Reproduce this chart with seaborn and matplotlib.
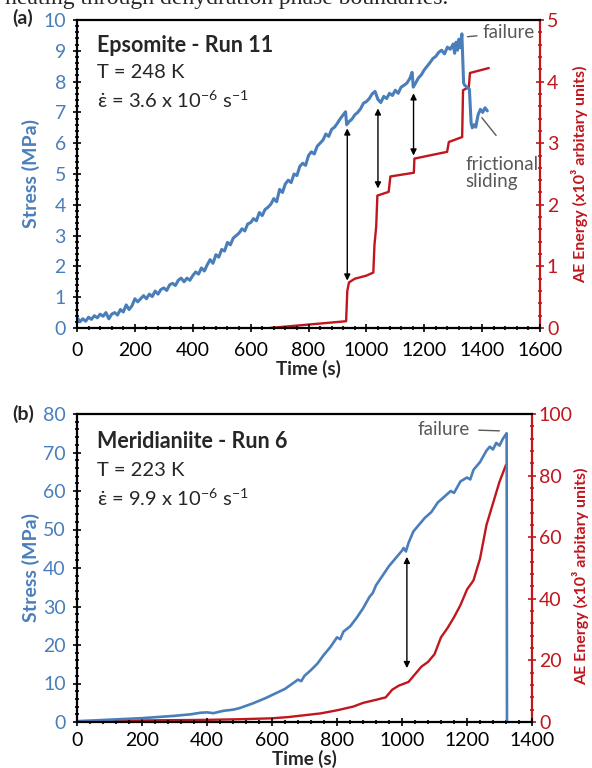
import numpy as np
import pandas as pd
import seaborn as sns
import matplotlib.pyplot as plt
from matplotlib.ticker import MultipleLocator

# ---- panel (a): Epsomite, run 11 ----
time_a = [0, 10, 20, 30, 40, 50, 60, 70, 80, 90, 100, 110, 120, 130, 140, 150, 160, 170, 180, 190,
          200, 210, 220, 230, 240, 250, 260, 270, 280, 290, 300, 310, 320, 330, 340, 350, 360, 370,
          380, 390, 400, 410, 420, 430, 440, 450, 460, 470, 480, 490, 500, 510, 520, 530, 540, 550,
          560, 570, 580, 590, 600, 610, 620, 630, 640, 650, 660, 670, 680, 690, 700, 710, 720, 730,
          740, 750, 760, 770, 780, 790, 800, 810, 820, 830, 840, 850, 860, 870, 880, 890, 900, 910,
          920, 928, 932, 940, 950, 960, 970, 980, 990, 1000, 1010, 1020, 1030, 1040, 1050, 1060,
          1070, 1080, 1090, 1100, 1110, 1120, 1130, 1140, 1150, 1158, 1162, 1170, 1180, 1190, 1200,
          1210, 1220, 1230, 1240, 1250, 1260, 1270, 1280, 1290, 1300, 1305, 1310, 1315, 1320, 1325,
          1330, 1336, 1340, 1348, 1356, 1362, 1366, 1372, 1378, 1386, 1394, 1402, 1410, 1418]
stress_a = [0.35, 0.2, 0.3, 0.22, 0.35, 0.28, 0.4, 0.33, 0.45, 0.38, 0.5, 0.3, 0.45, 0.5, 0.42, 0.6,
            0.52, 0.75, 0.6, 0.72, 0.95, 0.85, 0.95, 1.05, 0.95, 1.1, 1.02, 1.2, 1.1, 1.25, 1.3, 1.22,
            1.4, 1.45, 1.38, 1.55, 1.62, 1.5, 1.62, 1.55, 1.7, 1.82, 1.75, 1.95, 1.85, 2.05, 2.22, 2.1,
            2.38, 2.3, 2.55, 2.5, 2.78, 2.7, 2.92, 3.0, 3.08, 3.22, 3.15, 3.38, 3.42, 3.55, 3.48, 3.75,
            3.65, 3.85, 3.92, 4.02, 4.2, 4.1, 4.5, 4.4, 4.68, 4.8, 4.72, 5.0, 4.95, 5.25, 5.35, 5.28,
            5.6, 5.72, 5.65, 5.9, 6.0, 6.1, 6.3, 6.22, 6.45, 6.52, 6.65, 6.8, 6.92, 7.02, 6.6, 6.7,
            6.78, 6.92, 7.0, 7.12, 7.3, 7.35, 7.45, 7.6, 7.68, 7.42, 7.32, 7.52, 7.45, 7.62, 7.55, 7.72,
            7.62, 7.82, 7.88, 7.95, 8.1, 8.3, 7.82, 7.95, 8.12, 8.22, 8.38, 8.5, 8.62, 8.75, 8.82, 8.95,
            9.02, 8.9, 9.12, 9.05, 9.22, 8.92, 9.28, 9.02, 9.38, 9.1, 9.55, 7.95, 7.88, 7.82, 7.75, 6.65,
            6.5, 6.6, 6.52, 6.92, 7.1, 7.0, 7.15, 7.05]
ae_time_a = [666, 930, 934, 940, 960, 1000, 1024, 1028, 1034, 1038, 1077, 1083, 1164, 1166, 1279,
             1285, 1331, 1334, 1354, 1358, 1423]
ae_a = [0.0, 0.11, 0.6, 0.74, 0.8, 0.85, 0.9, 1.35, 1.65, 2.15, 2.21, 2.46, 2.52, 2.75, 2.86, 3.02,
        3.1, 3.86, 3.91, 4.14, 4.22]
arrows_a = [(934, 6.48, 1.54), (1040, 7.13, 4.53), (1163, 7.62, 5.6)]

# ---- panel (b): Meridianiite, run 6 ----
time_b = [0, 20, 50, 100, 150, 200, 250, 300, 350, 380, 400, 420, 450, 480, 500, 520, 540, 560,
          580, 600, 620, 640, 660, 680, 690, 700, 720, 740, 760, 780, 800, 810, 820, 840, 860, 880,
          900, 910, 920, 940, 960, 980, 1000, 1005, 1012, 1020, 1035, 1050, 1070, 1090, 1110, 1130,
          1150, 1160, 1180, 1200, 1210, 1220, 1240, 1260, 1270, 1280, 1290, 1300, 1310, 1322, 1323]
stress_b = [0.2, 0.3, 0.4, 0.6, 0.8, 1.0, 1.3, 1.6, 2.0, 2.4, 2.5, 2.3, 2.9, 3.2, 3.6, 4.2, 4.8,
            5.5, 6.2, 7.0, 7.8, 8.6, 9.8, 11.0, 10.6, 12.0, 13.5, 15.2, 17.5, 19.5, 22.0, 21.5,
            23.5, 24.8, 27.0, 29.5, 32.5, 33.5, 35.5, 38.0, 40.5, 42.5, 44.5, 45.2, 44.3, 46.5,
            49.5, 51.0, 53.0, 54.5, 57.0, 58.5, 60.0, 59.5, 62.5, 63.5, 63.0, 65.5, 67.5, 70.5,
            71.5, 70.8, 72.5, 71.8, 73.5, 75.0, 0.0]
ae_time_b = [20, 100, 200, 300, 400, 500, 600, 650, 700, 750, 800, 850, 880, 920, 950, 970, 990,
             1020, 1040, 1060, 1080, 1100, 1120, 1140, 1160, 1180, 1200, 1220, 1240, 1260, 1280,
             1300, 1320]
ae_b = [0.0, 0.3, 0.5, 0.6, 0.7, 0.9, 1.2, 1.6, 2.2, 2.8, 3.8, 5.0, 6.2, 7.2, 8.0, 10.5, 11.8,
        13.0, 15.5, 18.0, 19.5, 22.0, 27.5, 30.5, 34.0, 38.0, 43.0, 46.0, 53.0, 64.0, 71.0, 78.0,
        83.5]
arrows_b = [(1015, 42.9, 14.0)]

BLUE = '#4a7ebb'
RED = '#c0161d'
GREY = '#595959'
W, H = 592, 768

sns.set_style('ticks')
plt.rcParams['font.family'] = ['Lato', 'DejaVu Sans']
plt.rcParams['mathtext.fontset'] = 'dejavusans'

fig = plt.figure(figsize=(W / 100, H / 100), dpi=100)


def rect(l, t, r, b):
    return [l / W, 1 - b / H, (r - l) / W, (b - t) / H]


def ftext(x, y, s, **kw):
    fig.text(x / W, 1 - y / H, s, va='center', **kw)


def style_axes(ax, ax2, xmax, xmaj, ymax, ymaj, y2max, y2maj, xpad):
    ax.set_xlim(0, xmax)
    ax.set_ylim(0, ymax)
    ax2.set_ylim(0, y2max)
    ax.xaxis.set_major_locator(MultipleLocator(xmaj))
    ax.xaxis.set_minor_locator(MultipleLocator(xmaj / 5))
    ax.yaxis.set_major_locator(MultipleLocator(ymaj))
    ax.yaxis.set_minor_locator(MultipleLocator(ymaj / 5))
    ax2.yaxis.set_major_locator(MultipleLocator(y2maj))
    ax2.yaxis.set_minor_locator(MultipleLocator(y2maj / 5))
    for s in ['left', 'bottom', 'top']:
        ax.spines[s].set_color('black')
        ax.spines[s].set_linewidth(1.6)
    ax.spines['right'].set_visible(False)
    for s in ['left', 'bottom', 'top']:
        ax2.spines[s].set_visible(False)
    ax2.spines['right'].set_visible(True)
    ax2.spines['right'].set_color(RED)
    ax2.spines['right'].set_linewidth(1.6)
    ax.tick_params(axis='both', which='major', direction='inout', length=6, width=1.2,
                   color='black', labelsize=14)
    ax.tick_params(axis='both', which='minor', direction='inout', length=3, width=1.2, color='black')
    ax.tick_params(axis='y', labelcolor=BLUE, pad=5)
    ax.tick_params(axis='x', labelcolor='black', pad=xpad)
    ax.tick_params(top=False, which='both')
    ax2.tick_params(axis='y', which='major', direction='inout', length=6, width=1.2,
                    color=RED, labelcolor=RED, labelsize=14, pad=2)
    ax2.tick_params(axis='y', which='minor', direction='inout', length=3, width=1.2, color=RED)
    ax.set_xlabel('Time (s)', fontsize=13.5, fontweight='bold', labelpad=1)
    ax.set_ylabel('Stress (MPa)', fontsize=14, fontweight='bold', color=BLUE, labelpad=2)
    ax2.set_ylabel('')


def draw_arrows(ax, arrows):
    for t, top, bot in arrows:
        ax.annotate('', xy=(t, bot), xytext=(t, top),
                    arrowprops=dict(arrowstyle='<|-|>', color='black', lw=1.0,
                                    mutation_scale=9, shrinkA=0, shrinkB=0))


# panel (a)
ax_a = fig.add_axes(rect(77, 20, 540, 328))
ax_a2 = ax_a.twinx()
sns.lineplot(x=ae_time_a, y=ae_a, ax=ax_a2, color=RED, lw=1.7, sort=False, estimator=None)
sns.lineplot(x=time_a, y=stress_a, ax=ax_a, color=BLUE, lw=2.2, sort=False, estimator=None)
ax_a.set_zorder(ax_a2.get_zorder() + 1)
ax_a.patch.set_visible(False)
style_axes(ax_a, ax_a2, 1600, 200, 10, 1, 5, 1, xpad=7)
draw_arrows(ax_a, arrows_a)
ax_a.annotate('failure', xy=(1340, 9.45), xytext=(1403, 9.58), color=GREY, fontsize=13.5,
              va='center', ha='left',
              arrowprops=dict(arrowstyle='-', color=GREY, lw=1, shrinkA=2, shrinkB=2))
ax_a.annotate('frictional\nsliding', xy=(1393, 6.9), xytext=(1341, 5.03), color=GREY,
              fontsize=13.5, va='center', ha='left', linespacing=1.0,
              arrowprops=dict(arrowstyle='-', color=GREY, lw=1, shrinkA=16, shrinkB=2,
                              relpos=(0.65, 1.0)))

# panel (b)
ax_b = fig.add_axes(rect(77, 414, 532, 722))
ax_b2 = ax_b.twinx()
sns.lineplot(x=ae_time_b, y=ae_b, ax=ax_b2, color=RED, lw=1.7, sort=False, estimator=None)
sns.lineplot(x=time_b, y=stress_b, ax=ax_b, color=BLUE, lw=1.9, sort=False, estimator=None)
ax_b.set_zorder(ax_b2.get_zorder() + 1)
ax_b.patch.set_visible(False)
style_axes(ax_b, ax_b2, 1400, 200, 80, 10, 100, 20, xpad=4)
draw_arrows(ax_b, arrows_b)
ax_b.annotate('failure', xy=(1308, 75.6), xytext=(1209, 76.1), color=GREY, fontsize=13.5,
              va='center', ha='right',
              arrowprops=dict(arrowstyle='-', color=GREY, lw=1, shrinkA=4, shrinkB=2))

# right-hand axis titles, placed to sit inside the figure like the original
ae_label = 'AE Energy (x10³ arbitary units)'
ftext(580, 174, ae_label, fontsize=11.5, fontweight='bold', color=RED, rotation=90, ha='center')
ftext(581, 576, ae_label, fontsize=11.5, fontweight='bold', color=RED, rotation=90, ha='center')

ftext(97, 45, 'Epsomite - Run 11', fontsize=15.5, fontweight='bold')
ftext(97, 72, 'T = 248 K', fontsize=14.5)
ftext(97, 100, 'ε̇ = 3.6 x 10$^{\\mathregular{-6}}$ s$^{\\mathregular{-1}}$', fontsize=14.5)
ftext(97, 442, 'Meridianiite - Run 6', fontsize=15.5, fontweight='bold')
ftext(97, 471, 'T = 223 K', fontsize=14.5)
ftext(97, 498, 'ε̇ = 9.9 x 10$^{\\mathregular{-6}}$ s$^{\\mathregular{-1}}$', fontsize=14.5)
ftext(12, 18, '(a)', fontsize=14, fontweight='bold')
ftext(12, 414, '(b)', fontsize=14, fontweight='bold')
fig.text(5 / W, 1 - 4 / H, 'heating through dehydration phase boundaries.',
         fontsize=17, family='Liberation Serif', va='baseline')

fig.savefig('out.png', dpi=100)
